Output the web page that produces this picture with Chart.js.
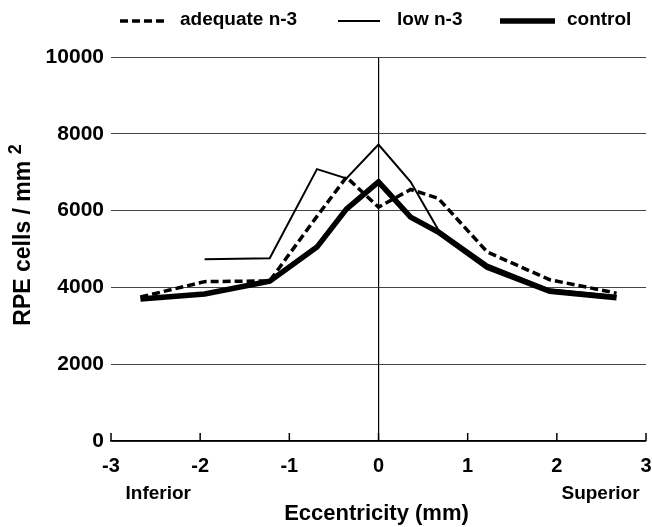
<!DOCTYPE html>
<html>
<head>
<meta charset="utf-8">
<script src="https://cdn.jsdelivr.net/npm/chart.js@4"></script>
<style>
  html, body { margin: 0; padding: 0; background: #fff; }
  #wrap { width: 652px; height: 527px; }
</style>
</head>
<body>
<div id="wrap"><canvas id="graf"></canvas></div>
<script>
// eccentricity (mm) where the densities were measured
const eccentricity = [-2.67, -1.95, -1.22, -0.69, -0.36, 0, 0.36, 0.67, 1.22, 1.92, 2.67];
// RPE cells / mm2
const adequateN3 = [3750, 4150, 4170, 5850, 6870, 6090, 6550, 6320, 4920, 4200, 3850];
const lowN3      = [null, 4730, 4760, 7080, 6840, 7720, 6750, 5500, 4600, 3950, 3780];
const control    = [3700, 3830, 4160, 5050, 6040, 6750, 5830, 5440, 4520, 3900, 3730];

const xTicks = [-3, -2, -1, 0, 1, 2, 3];
const yTicks = [0, 2000, 4000, 6000, 8000, 10000];

const FONT = '"Liberation Sans", Arial, Helvetica, sans-serif';

function puntos(vals) {
  return eccentricity.map((x, i) => ({ x: x, y: vals[i] }));
}

// leyenda propia (muestra + texto), una por dataset
const leyenda = [
  { x0: 120, x1: 165, tx: 180 },
  { x0: 338, x1: 380, tx: 397 },
  { x0: 500, x1: 555, tx: 567 }
];

// dibuja leyenda, ticks hacia arriba, textos de abajo y el titulo del eje y
const extras = {
  id: 'extras',
  afterDraw(chart) {
    const ctx = chart.ctx;
    const xs = chart.scales.x;
    const area = chart.chartArea;
    ctx.save();

    // leyenda
    chart.data.datasets.forEach((ds, i) => {
      const pos = leyenda[i];
      ctx.save();
      ctx.strokeStyle = ds.borderColor;
      ctx.lineWidth = ds.borderWidth;
      ctx.setLineDash(ds.borderDash || []);
      ctx.beginPath();
      ctx.moveTo(pos.x0, 21);
      ctx.lineTo(pos.x1, 21);
      ctx.stroke();
      ctx.restore();
      ctx.fillStyle = '#000';
      ctx.font = 'bold 19px ' + FONT;
      ctx.textAlign = 'left';
      ctx.textBaseline = 'middle';
      ctx.fillText(ds.label, pos.tx, 20);
    });

    ctx.strokeStyle = '#000';
    ctx.lineWidth = 1.5;
    xTicks.forEach(v => {
      const px = xs.getPixelForValue(v);
      ctx.beginPath();
      ctx.moveTo(px, area.bottom);
      ctx.lineTo(px, area.bottom - 8);
      ctx.stroke();
    });

    ctx.fillStyle = '#000';
    ctx.textAlign = 'center';
    ctx.textBaseline = 'middle';
    ctx.font = 'bold 19px ' + FONT;
    ctx.fillText('Inferior', xs.getPixelForValue(-2.47), 494);
    ctx.fillText('Superior', xs.getPixelForValue(2.49), 494);
    ctx.font = 'bold 22px ' + FONT;
    ctx.fillText('Eccentricity (mm)', (area.left + area.right) / 2 - 2, 514);

    // titulo y con superindice
    ctx.translate(24, 235);
    ctx.rotate(-Math.PI / 2);
    ctx.font = 'bold 23px ' + FONT;
    const main = 'RPE cells / mm ';
    const w1 = ctx.measureText(main).width;
    ctx.font = 'bold 18px ' + FONT;
    const w2 = ctx.measureText('2').width;
    const start = -(w1 + w2) / 2;
    ctx.textAlign = 'left';
    ctx.font = 'bold 23px ' + FONT;
    ctx.fillText(main, start, 0);
    ctx.font = 'bold 18px ' + FONT;
    ctx.fillText('2', start + w1, -8);
    ctx.restore();
  }
};

const ctx = document.getElementById('graf').getContext('2d');
const myChart = new Chart(ctx, {
  type: 'line',
  data: {
    datasets: [
      {
        label: 'adequate n-3',
        data: puntos(adequateN3),
        borderColor: '#000',
        backgroundColor: '#000',
        borderWidth: 3.5,
        borderDash: [8, 4]
      },
      {
        label: 'low n-3',
        data: puntos(lowN3),
        borderColor: '#000',
        backgroundColor: '#000',
        borderWidth: 2
      },
      {
        label: 'control',
        data: puntos(control),
        borderColor: '#000',
        backgroundColor: '#000',
        borderWidth: 5.5
      }
    ]
  },
  options: {
    responsive: true,
    maintainAspectRatio: false,
    animation: false,
    elements: { point: { radius: 0 }, line: { tension: 0 } },
    layout: { padding: { left: 0, right: 6, top: 57, bottom: 0 } },
    scales: {
      x: {
        type: 'linear',
        min: -3,
        max: 3,
        afterFit: s => { s.height = 86; s.paddingLeft = 0; s.paddingRight = 0; },
        afterBuildTicks: s => { s.ticks = xTicks.map(v => ({ value: v })); },
        grid: {
          color: c => (c.tick && c.tick.value === 0) ? '#000' : 'rgba(0,0,0,0)',
          lineWidth: 1.2,
          drawTicks: false
        },
        border: { color: '#000', width: 1.5 },
        ticks: {
          color: '#000',
          padding: 13,
          maxRotation: 0,
          callback: v => String(v),
          font: { family: FONT, size: 20, weight: 'bold' }
        }
      },
      y: {
        min: 0,
        max: 10000,
        afterFit: s => { s.width = 111; s.paddingTop = 0; s.paddingBottom = 0; },
        afterBuildTicks: s => { s.ticks = yTicks.map(v => ({ value: v })); },
        grid: { color: '#444', lineWidth: 1, drawTicks: false },
        border: { display: false },
        ticks: {
          color: '#000',
          padding: 7,
          callback: v => String(v),
          font: { family: FONT, size: 21, weight: 'bold' }
        }
      }
    },
    plugins: {
      tooltip: { enabled: false },
      legend: { display: false }
    }
  },
  plugins: [extras]
});
</script>
</body>
</html>
